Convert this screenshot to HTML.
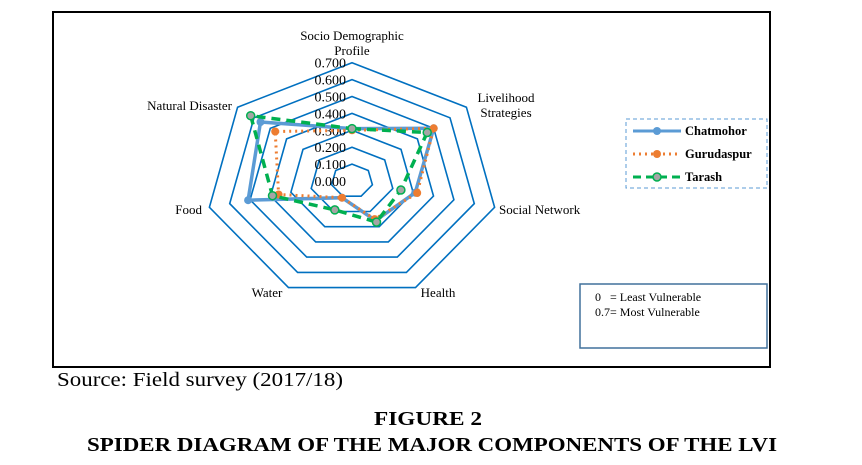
<!DOCTYPE html>
<html><head><meta charset="utf-8"><style>
body{margin:0;background:#fff;}
svg{display:block;font-family:"Liberation Serif",serif;}
</style></head><body>
<svg id="c" width="862" height="465">
<rect x="53" y="12" width="717" height="355" fill="none" stroke="#000" stroke-width="2"/>
<g id="grid"></g>
<g id="ticks"></g>
<g id="series"></g>
<g font-size="13" fill="#000">
<text x="352" y="40" text-anchor="middle">Socio Demographic</text>
<text x="352" y="55" text-anchor="middle">Profile</text>
<text x="506" y="102" text-anchor="middle">Livelihood</text>
<text x="506" y="117" text-anchor="middle">Strategies</text>
<text x="499" y="214">Social Network</text>
<text x="438" y="297" text-anchor="middle">Health</text>
<text x="267" y="297" text-anchor="middle">Water</text>
<text x="202" y="214" text-anchor="end">Food</text>
<text x="232" y="110" text-anchor="end">Natural Disaster</text>
</g>
<g>
<rect x="626" y="119" width="141" height="69" fill="#fff" stroke="#5b9bd5" stroke-dasharray="4,3"/>
<g>
<line x1="633" y1="131" x2="681" y2="131" stroke="#5b9bd5" stroke-width="3"/>
<circle cx="657" cy="131" r="4" fill="#5b9bd5"/>
<text x="685" y="135" font-size="12.5" font-weight="bold">Chatmohor</text></g>
<g>
<line x1="633" y1="154" x2="681" y2="154" stroke="#ed7d31" stroke-width="3" stroke-dasharray="2,4"/>
<circle cx="657" cy="154" r="4" fill="#ed7d31"/>
<text x="685" y="158" font-size="12.5" font-weight="bold">Gurudaspur</text></g>
<g>
<line x1="633" y1="177" x2="681" y2="177" stroke="#00b050" stroke-width="3" stroke-dasharray="8,5"/>
<circle cx="657" cy="177" r="4" fill="#a5a5a5" stroke="#00b050" stroke-width="1.5"/>
<text x="685" y="181" font-size="12.5" font-weight="bold">Tarash</text></g>
</g>
<g>
<rect x="580" y="284" width="187" height="64" fill="#fff" stroke="#41719c" stroke-width="1.5"/>
<text x="595" y="301" font-size="12">0&#160;&#160;&#160;= Least Vulnerable</text>
<text x="595" y="316" font-size="12">0.7= Most Vulnerable</text>
</g>
<text x="57" y="386" font-size="20" textLength="286" lengthAdjust="spacingAndGlyphs">Source: Field survey (2017/18)</text>
<text x="428" y="425" font-size="20" font-weight="bold" text-anchor="middle" textLength="108" lengthAdjust="spacingAndGlyphs">FIGURE 2</text>
<text x="432" y="451" font-size="20" font-weight="bold" text-anchor="middle" textLength="690" lengthAdjust="spacingAndGlyphs">SPIDER DIAGRAM OF THE MAJOR COMPONENTS OF THE LVI</text>
</svg>
<script>
const categories=["Socio Demographic Profile","Livelihood Strategies","Social Network","Health","Water","Food","Natural Disaster"];
const chatmohor=[0.31,0.50,0.31,0.26,0.11,0.51,0.56];
const gurudaspur=[0.30,0.50,0.32,0.25,0.11,0.36,0.47];
const tarash=[0.31,0.46,0.24,0.27,0.19,0.39,0.62];
const ringValues=[0.1,0.2,0.3,0.4,0.5,0.6,0.7];
const tickLabels=["0.000","0.100","0.200","0.300","0.400","0.500","0.600","0.700"];
const NS="http://www.w3.org/2000/svg";
const cx=352,cy=181,rx=209,ry=169;
function pt(i,v){const a=i*2*Math.PI/categories.length;return [cx+Math.sin(a)*v*rx,cy-Math.cos(a)*v*ry];}
function poly(vals){return vals.map((v,i)=>pt(i,v).map(n=>n.toFixed(1)).join(",")).join(" ");}
const grid=document.getElementById("grid");
ringValues.forEach((r,k)=>{
 const p=document.createElementNS(NS,"polygon");
 p.setAttribute("points",poly(categories.map(()=>r)));
 p.setAttribute("fill","none");p.setAttribute("stroke","#0070c0");p.setAttribute("stroke-width","1.6");
 
 
 grid.appendChild(p);
});
const ticks=document.getElementById("ticks");
tickLabels.forEach((t,k)=>{
 const v=k/10;
 const el=document.createElementNS(NS,"text");
 el.setAttribute("x",346);el.setAttribute("y",(cy-v*ry+5).toFixed(1));
 el.setAttribute("text-anchor","end");el.setAttribute("font-size","14");
 el.textContent=t;
 
 
 ticks.appendChild(el);
});
const series=document.getElementById("series");
function draw(vals,name,color,dash,w,mfill,mstroke){
 const g=document.createElementNS(NS,"g");
 
 
 const p=document.createElementNS(NS,"polygon");
 p.setAttribute("points",poly(vals));p.setAttribute("fill","none");
 p.setAttribute("stroke",color);p.setAttribute("stroke-width",w);
 if(dash)p.setAttribute("stroke-dasharray",dash);
 
 
 g.appendChild(p);
 vals.forEach((v,i)=>{
  const [x,y]=pt(i,v);
  const c=document.createElementNS(NS,"circle");
  c.setAttribute("cx",x.toFixed(1));c.setAttribute("cy",y.toFixed(1));c.setAttribute("r",4);
  c.setAttribute("fill",mfill);
  if(mstroke){c.setAttribute("stroke",mstroke);c.setAttribute("stroke-width",1.5);}
  
  
  g.appendChild(c);
 });
 series.appendChild(g);
}
draw(chatmohor,"chatmohor","#5b9bd5",null,3.5,"#5b9bd5",null);
draw(gurudaspur,"gurudaspur","#ed7d31","2,4",3,"#ed7d31",null);
draw(tarash,"tarash","#00b050","9,6",3.5,"#a5a5a5","#00b050");
</script>
</body></html>
